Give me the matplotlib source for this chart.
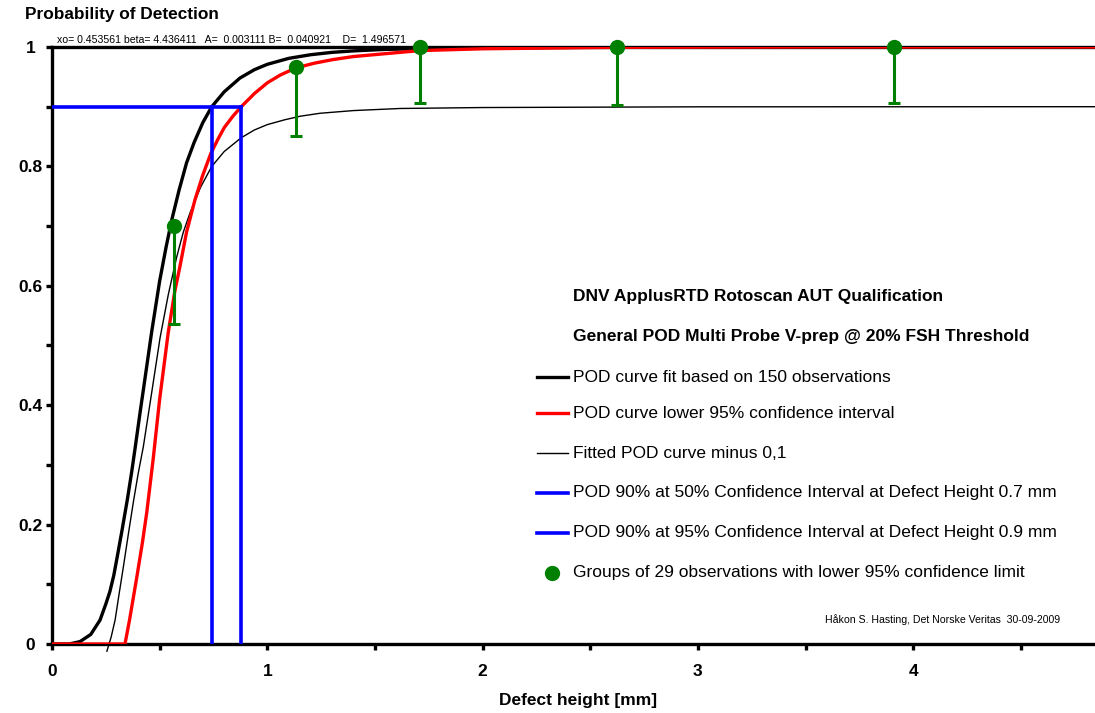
import matplotlib
matplotlib.use("Agg")
import matplotlib.pyplot as plt
from matplotlib.lines import Line2D
from matplotlib.ticker import MultipleLocator, FixedLocator, FixedFormatter

plt.rcParams['font.family'] = ['Liberation Sans', 'DejaVu Sans']

# POD curve fit (150 observations)
pod_x = [0.0, 0.08, 0.13, 0.18, 0.223, 0.25, 0.269, 0.287, 0.305, 0.325, 0.35, 0.37,
         0.386, 0.41, 0.43, 0.463, 0.5, 0.53, 0.556, 0.59, 0.625, 0.66, 0.70, 0.742,
         0.80, 0.873, 0.94, 1.0, 1.1, 1.2, 1.3, 1.4, 1.55, 1.75, 2.0, 2.5, 3.0, 4.0, 4.85]
pod_y = [0.0, 0.0, 0.004, 0.016, 0.04, 0.067, 0.088, 0.115, 0.15, 0.19, 0.242, 0.288,
         0.328, 0.39, 0.44, 0.523, 0.608, 0.665, 0.71, 0.76, 0.806, 0.84, 0.873, 0.9,
         0.925, 0.948, 0.962, 0.971, 0.981, 0.987, 0.991, 0.9935, 0.996, 0.9975, 0.9986,
         0.9995, 0.9998, 1.0, 1.0]

# lower 95% confidence curve
low_x = [0.0, 0.339, 0.36, 0.393, 0.42, 0.44, 0.47, 0.50, 0.54, 0.57, 0.594, 0.625,
         0.664, 0.70, 0.738, 0.77, 0.80, 0.84, 0.879, 0.94, 1.0, 1.06, 1.133, 1.22, 1.306,
         1.4, 1.523, 1.709, 2.0, 2.623, 3.5, 4.85]
low_y = [0.0, 0.0, 0.04, 0.11, 0.17, 0.22, 0.31, 0.41, 0.522, 0.59, 0.632, 0.69,
         0.744, 0.785, 0.822, 0.845, 0.865, 0.884, 0.90, 0.922, 0.94, 0.953, 0.965, 0.973,
         0.979, 0.984, 0.988, 0.994, 0.997, 0.9995, 1.0, 1.0]

# fitted curve minus 0,1
thin_x = [0.255, 0.275, 0.293, 0.31, 0.331, 0.355, 0.378, 0.40, 0.424, 0.463, 0.502,
          0.54, 0.579, 0.61, 0.641, 0.69, 0.742, 0.80, 0.879, 0.94, 1.0, 1.08, 1.152,
          1.245, 1.4, 1.616, 2.0, 3.0, 4.85]
thin_y = [-0.012, 0.012, 0.04, 0.08, 0.128, 0.185, 0.238, 0.285, 0.33, 0.421, 0.513,
          0.585, 0.648, 0.69, 0.722, 0.765, 0.80, 0.825, 0.848, 0.861, 0.87, 0.878, 0.884,
          0.889, 0.8935, 0.897, 0.8986, 0.8998, 0.9]

# POD 90% defect heights
h50 = 0.742
h95 = 0.879
pod_level = 0.9

# groups of 29 observations with lower 95% limit
grp_x = [0.567, 1.133, 1.709, 2.623, 3.912]
grp_y = [0.700, 0.967, 1.0, 1.0, 1.0]
grp_low = [0.536, 0.851, 0.906, 0.903, 0.906]

fig = plt.figure(figsize=(10.95, 7.13), dpi=100)
W, H = 1095.0, 713.0
ax = fig.add_axes([52 / W, 69 / H, (W - 52) / W, (644 - 47) / H])

ax.plot(pod_x, pod_y, color='black', lw=2.4, zorder=3, solid_capstyle='butt')
ax.plot(low_x, low_y, color='red', lw=2.4, zorder=4, solid_capstyle='butt')
ax.plot(thin_x, thin_y, color='black', lw=1.0, zorder=3, clip_on=False)

ax.plot([0, h95], [pod_level, pod_level], color='blue', lw=2.6, zorder=5)
ax.plot([h50, h50], [0, pod_level], color='blue', lw=2.6, zorder=5)
ax.plot([h95, h95], [0, pod_level], color='blue', lw=2.6, zorder=5)

yerr = [[y - l for y, l in zip(grp_y, grp_low)], [0] * len(grp_y)]
ax.errorbar(grp_x, grp_y, yerr=yerr, fmt='o', color='green', ms=10, elinewidth=2.2,
            capsize=4.3, capthick=2.2, zorder=6, clip_on=False)

ax.set_xlim(0, (W - 52) / 215.3)
ax.set_ylim(0, 1)

for s in ['left', 'bottom', 'top']:
    ax.spines[s].set_linewidth(2.4)
ax.spines['right'].set_visible(False)

ax.xaxis.set_major_locator(FixedLocator([0, 1, 2, 3, 4]))
ax.xaxis.set_major_formatter(FixedFormatter(['0', '1', '2', '3', '4']))
ax.xaxis.set_minor_locator(MultipleLocator(0.5))
ax.yaxis.set_major_locator(FixedLocator([0, 0.2, 0.4, 0.6, 0.8, 1.0]))
ax.yaxis.set_major_formatter(FixedFormatter(['0', '0.2', '0.4', '0.6', '0.8', '1']))
ax.yaxis.set_minor_locator(MultipleLocator(0.1))
ax.tick_params(which='both', direction='out', length=4.5, width=2.4)
ax.tick_params(axis='both', labelsize=12.5)
ax.tick_params(axis='x', pad=10)
ax.tick_params(axis='y', pad=11)
for lab in ax.get_xticklabels() + ax.get_yticklabels():
    lab.set_fontweight('bold')
for lab in ax.get_yticklabels():
    lab.set_horizontalalignment('center')

ax.set_xlabel('Defect height [mm]', fontsize=12.5, fontweight='bold', labelpad=12)
ax.xaxis.set_label_coords((578 - 52) / (W - 52), -(700 - 644) / (644 - 47))
ax.xaxis.label.set_va('center')

fig.text(25 / W, 1 - 15 / H, 'Probability of Detection', fontsize=12.4, fontweight='bold',
         ha='left', va='center')
fig.text(57 / W, 1 - 40 / H,
         'xo= 0.453561 beta= 4.436411   A=  0.003111 B=  0.040921    D=  1.496571',
         fontsize=7.6, ha='left', va='center')

# legend block drawn by hand
tx = 573 / W
fig.text(tx, 1 - 297 / H, 'DNV ApplusRTD Rotoscan AUT Qualification', fontsize=12.5,
         fontweight='bold', va='center')
fig.text(tx, 1 - 337 / H, 'General POD Multi Probe V-prep @ 20% FSH Threshold', fontsize=12.5,
         fontweight='bold', va='center')

entries = [
    ('POD curve fit based on 150 observations', 'black', 2.4, 377),
    ('POD curve lower 95% confidence interval', 'red', 2.4, 413),
    ('Fitted POD curve minus 0,1', 'black', 1.0, 453),
    ('POD 90% at 50% Confidence Interval at Defect Height 0.7 mm', 'blue', 2.6, 493),
    ('POD 90% at 95% Confidence Interval at Defect Height 0.9 mm', 'blue', 2.6, 533),
]
for label, col, lw, ypix in entries:
    yy = 1 - ypix / H
    fig.add_artist(Line2D([537 / W, 568 / W], [yy, yy], color=col, lw=lw))
    fig.text(tx, yy, label, fontsize=12.5, va='center')

yy = 1 - 573 / H
fig.add_artist(Line2D([552 / W], [yy], marker='o', color='green', ms=10))
fig.text(tx, yy, 'Groups of 29 observations with lower 95% confidence limit', fontsize=12.5,
         va='center')

fig.text(1060 / W, 1 - 620 / H, 'Håkon S. Hasting, Det Norske Veritas  30-09-2009',
         fontsize=7.6, ha='right', va='center')

fig.savefig('out.png', dpi=100)
